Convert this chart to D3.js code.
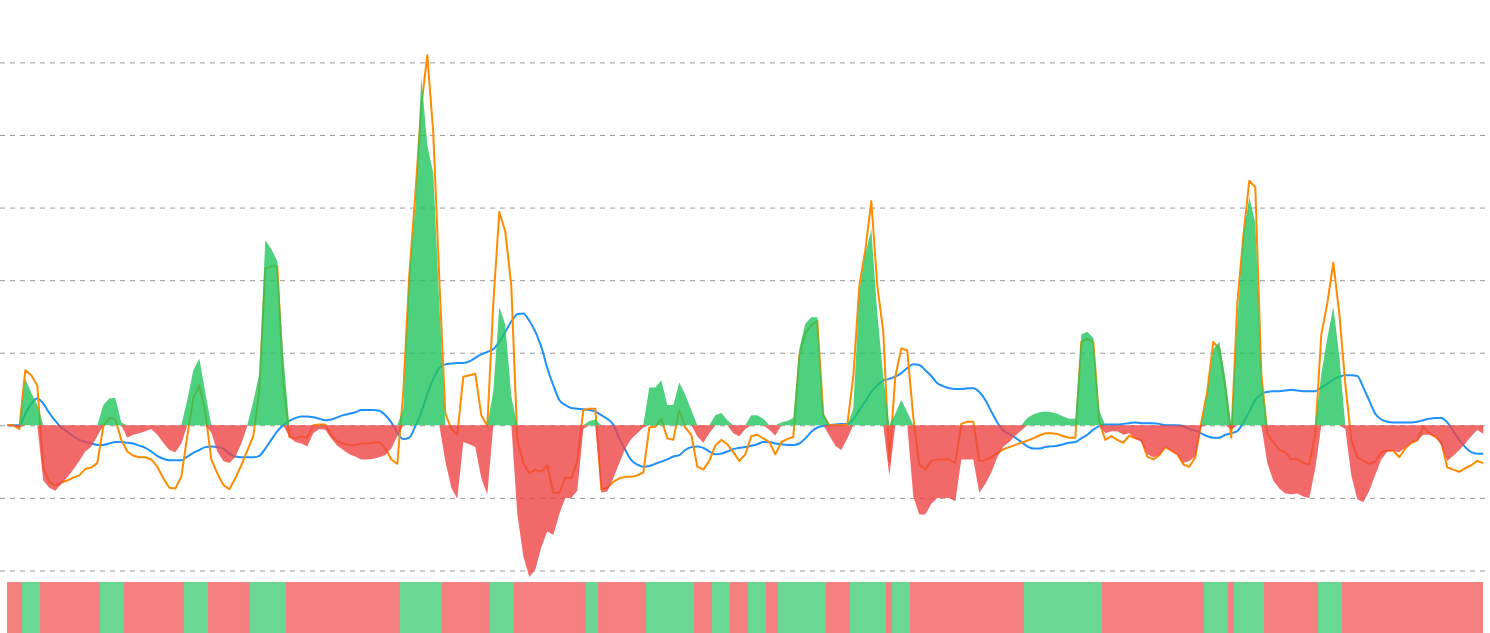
<!DOCTYPE html>
<html>
<head>
<meta charset="utf-8">
<script src="https://cdn.jsdelivr.net/npm/d3@7/dist/d3.min.js"></script>
<style>
  html, body { margin: 0; padding: 0; background: #fff; }
  svg { display: block; }
</style>
</head>
<body>
<svg id="chart" width="1490" height="633"></svg>
<script>
// ---- data ----
const yTicks = [-2, -1, 0, 1, 2, 3, 4, 5];

const histogram = [
 -0.01,-0.01,-0.03,0.64,0.45,0.28,-0.76,-0.86,-0.90,-0.81,
 -0.72,-0.61,-0.49,-0.36,-0.29,-0.15,0.28,0.37,0.38,0.04,
 -0.17,-0.13,-0.11,-0.08,-0.05,-0.13,-0.24,-0.34,-0.37,-0.25,
 0.35,0.76,0.92,0.45,-0.10,-0.36,-0.49,-0.52,-0.44,-0.25,
 -0.01,0.33,0.71,2.55,2.43,2.26,0.96,-0.16,-0.23,-0.25,
 -0.29,-0.11,-0.05,-0.06,-0.18,-0.28,-0.34,-0.40,-0.43,-0.47,
 -0.47,-0.46,-0.44,-0.41,-0.32,-0.15,0.23,2.12,2.99,4.80,
 3.86,3.47,1.68,-0.49,-0.86,-1.01,-0.23,-0.26,-0.30,-0.73,
 -0.95,0.47,1.63,1.39,0.40,-1.22,-1.80,-2.09,-1.99,-1.68,
 -1.46,-1.51,-1.22,-1.00,-1.00,-0.90,-0.05,0.06,0.08,-0.93,
 -0.91,-0.73,-0.52,-0.32,-0.19,-0.11,-0.03,0.52,0.52,0.62,
 0.28,0.28,0.59,0.42,0.21,-0.15,-0.24,-0.11,0.14,0.17,
 0.07,-0.11,-0.15,-0.05,0.14,0.14,0.09,-0.06,-0.14,0.04,
 0.06,0.10,1.05,1.40,1.49,1.49,0.18,-0.14,-0.28,-0.34,
 -0.18,0.23,1.83,2.36,2.70,1.54,0.67,-0.69,0.16,0.35,
 0.18,-0.98,-1.23,-1.23,-1.08,-1.00,-1.00,-1.00,-1.05,-0.47,
 -0.47,-0.47,-0.93,-0.81,-0.65,-0.44,-0.29,-0.23,-0.14,-0.07,
 0.10,0.15,0.18,0.19,0.18,0.16,0.12,0.09,0.09,1.25,
 1.29,1.20,0.20,-0.11,-0.08,-0.08,-0.13,-0.11,-0.18,-0.23,
 -0.40,-0.44,-0.41,-0.30,-0.35,-0.40,-0.52,-0.49,-0.43,-0.02,
 0.43,1.05,1.15,0.66,-0.06,1.44,2.62,3.14,2.79,0.67,
 -0.52,-0.76,-0.87,-0.94,-0.95,-0.94,-0.98,-1.00,-0.59,0.71,
 1.20,1.63,0.96,-0.05,-0.69,-1.02,-1.06,-0.90,-0.68,-0.47,
 -0.36,-0.35,-0.37,-0.31,-0.24,-0.21,-0.13,-0.13,-0.15,-0.28,
 -0.49,-0.42,-0.34,-0.25,-0.15,-0.06,-0.12
];

const fastLine = [
 0,0,-0.05,0.76,0.69,0.55,-0.59,-0.78,-0.83,-0.79,
 -0.76,-0.72,-0.69,-0.60,-0.58,-0.52,-0.01,0.10,0.08,-0.20,
 -0.36,-0.42,-0.44,-0.44,-0.47,-0.57,-0.73,-0.86,-0.87,-0.71,
 -0.15,0.38,0.55,0.18,-0.47,-0.66,-0.82,-0.88,-0.73,-0.55,
 -0.35,-0.15,0.47,2.16,2.19,2.19,0.60,-0.16,-0.18,-0.15,
 -0.17,0,0.01,0.01,-0.14,-0.22,-0.25,-0.27,-0.27,-0.25,
 -0.25,-0.24,-0.23,-0.32,-0.47,-0.53,0.47,2.07,3.18,4.39,
 5.10,4.02,2.02,0.16,-0.05,-0.13,0.67,0.69,0.71,0.14,
 -0.01,1.68,2.94,2.67,1.92,-0.20,-0.52,-0.66,-0.61,-0.64,
 -0.55,-0.93,-0.93,-0.72,-0.73,-0.49,0.21,0.23,0.23,-0.88,
 -0.86,-0.78,-0.73,-0.71,-0.71,-0.69,-0.65,-0.03,-0.02,0.09,
 -0.18,-0.20,0.21,-0.03,-0.13,-0.57,-0.61,-0.49,-0.28,-0.20,
 -0.26,-0.37,-0.49,-0.40,-0.15,-0.13,-0.18,-0.23,-0.40,-0.23,
 -0.19,-0.16,0.96,1.27,1.38,1.44,0.14,0,0,0,
 0.01,0.67,1.92,2.41,3.09,1.92,1.29,-0.49,0.67,1.06,
 1.03,0.11,-0.54,-0.61,-0.49,-0.47,-0.47,-0.47,-0.52,0.02,
 0.05,0.05,-0.49,-0.48,-0.44,-0.38,-0.33,-0.30,-0.27,-0.24,
 -0.21,-0.18,-0.14,-0.11,-0.11,-0.12,-0.15,-0.17,-0.17,1.15,
 1.19,1.15,0.05,-0.20,-0.15,-0.20,-0.24,-0.14,-0.18,-0.20,
 -0.43,-0.47,-0.41,-0.30,-0.35,-0.40,-0.54,-0.57,-0.44,0.04,
 0.47,1.15,1.05,0.52,-0.17,1.68,2.60,3.37,3.28,0.71,
 -0.11,-0.23,-0.34,-0.37,-0.47,-0.46,-0.52,-0.54,-0.11,1.25,
 1.68,2.24,1.54,0.57,-0.20,-0.44,-0.49,-0.53,-0.50,-0.37,
 -0.35,-0.35,-0.44,-0.32,-0.24,-0.21,-0.01,-0.11,-0.16,-0.23,
 -0.58,-0.61,-0.64,-0.59,-0.55,-0.49,-0.52
];

const slowLine = [
 0,0,0,0.16,0.30,0.37,0.30,0.17,0.06,-0.03,
 -0.09,-0.15,-0.20,-0.23,-0.25,-0.27,-0.27,-0.25,-0.23,-0.23,
 -0.24,-0.25,-0.28,-0.31,-0.36,-0.42,-0.46,-0.48,-0.48,-0.48,
 -0.43,-0.38,-0.34,-0.30,-0.29,-0.30,-0.32,-0.39,-0.43,-0.44,
 -0.44,-0.44,-0.42,-0.32,-0.20,-0.08,0,0.06,0.10,0.12,
 0.12,0.11,0.09,0.07,0.08,0.11,0.14,0.16,0.18,0.21,
 0.21,0.21,0.20,0.14,0.04,-0.10,-0.19,-0.17,-0.01,0.18,
 0.43,0.64,0.79,0.84,0.85,0.86,0.86,0.88,0.93,0.98,
 1.01,1.05,1.15,1.29,1.43,1.53,1.54,1.44,1.29,1.08,
 0.79,0.55,0.35,0.28,0.24,0.23,0.22,0.21,0.19,0.14,
 0.09,0.01,-0.18,-0.34,-0.48,-0.54,-0.57,-0.56,-0.53,-0.50,
 -0.47,-0.43,-0.41,-0.34,-0.30,-0.29,-0.31,-0.36,-0.40,-0.39,
 -0.36,-0.33,-0.31,-0.30,-0.28,-0.26,-0.23,-0.23,-0.25,-0.26,
 -0.27,-0.27,-0.25,-0.18,-0.09,-0.03,-0.01,0,0.01,0.02,
 0.02,0.08,0.21,0.33,0.46,0.55,0.62,0.64,0.67,0.72,
 0.79,0.84,0.83,0.76,0.68,0.58,0.54,0.51,0.50,0.50,
 0.51,0.51,0.46,0.35,0.19,0.04,-0.07,-0.12,-0.17,-0.23,
 -0.29,-0.32,-0.32,-0.30,-0.29,-0.28,-0.26,-0.24,-0.23,-0.18,
 -0.13,-0.06,-0.01,0.01,0.01,0.01,0.02,0.03,0.04,0.03,
 0.03,0.03,0.02,0,0,0,-0.01,-0.05,-0.07,-0.11,
 -0.15,-0.17,-0.17,-0.13,-0.11,-0.08,0.04,0.19,0.35,0.43,
 0.46,0.47,0.47,0.48,0.49,0.48,0.47,0.47,0.47,0.52,
 0.57,0.63,0.67,0.69,0.69,0.68,0.52,0.34,0.16,0.08,
 0.05,0.04,0.04,0.04,0.04,0.05,0.07,0.09,0.10,0.10,
 0.04,-0.08,-0.20,-0.30,-0.37,-0.39,-0.39
];

// ---- drawing ----
const svg = d3.select("#chart");
const idx = d3.range(histogram.length);

const x = d3.scalePoint().domain(idx).range([7.3, 1483.3]);
const step = x.step();
const y = d3.scaleLinear().domain([-2, 5]).range([570.5, 62.4]);

// grid lines via axis
const grid = svg.append("g")
  .call(d3.axisRight(y).tickValues(yTicks).tickSize(1486).tickFormat(""));
grid.select(".domain").remove();
grid.selectAll(".tick line")
  .attr("stroke", "#9a9a9a")
  .attr("stroke-width", 1)
  .attr("stroke-dasharray", "5,5");

// lines (under the histogram)
svg.append("path")
  .datum(idx)
  .attr("fill", "none")
  .attr("stroke", "#1e90ff")
  .attr("stroke-width", 2)
  .attr("stroke-linejoin", "round")
  .attr("d", d3.line().x(i => x(i)).y(i => y(slowLine[i])).curve(d3.curveMonotoneX));

svg.append("path")
  .datum(idx)
  .attr("fill", "none")
  .attr("stroke", "#ff8c00")
  .attr("stroke-width", 2)
  .attr("stroke-linejoin", "round")
  .attr("d", d3.line().x(i => x(i)).y(i => y(fastLine[i])));

// histogram areas
const posArea = d3.area().x(i => x(i)).y0(y(0)).y1(i => y(Math.max(0, histogram[i])));
const negArea = d3.area().x(i => x(i)).y0(y(0)).y1(i => y(Math.min(0, histogram[i])));
svg.append("path").datum(idx)
  .attr("fill", "#22c55e").attr("fill-opacity", 0.8)
  .attr("d", posArea);
svg.append("path").datum(idx)
  .attr("fill", "#ef4444").attr("fill-opacity", 0.8)
  .attr("d", negArea);

// bottom sign strip: merge consecutive samples of the same sign into runs
const runs = [];
idx.forEach(i => {
  const s = histogram[i] >= 0;
  const last = runs[runs.length - 1];
  if (last && last.pos === s) last.end = i;
  else runs.push({ pos: s, start: i, end: i });
});
const left = x(0), right = x(idx.length - 1);
svg.append("g")
  .selectAll("rect").data(runs).join("rect")
  .attr("x", r => Math.max(left, x(r.start) - step / 2))
  .attr("y", 582)
  .attr("width", r => Math.min(right, x(r.end) + step / 2) - Math.max(left, x(r.start) - step / 2))
  .attr("height", 51)
  .attr("shape-rendering", "crispEdges")
  .attr("fill", r => r.pos ? "#22c55e" : "#ef4444")
  .attr("fill-opacity", 0.68);
</script>
</body>
</html>
